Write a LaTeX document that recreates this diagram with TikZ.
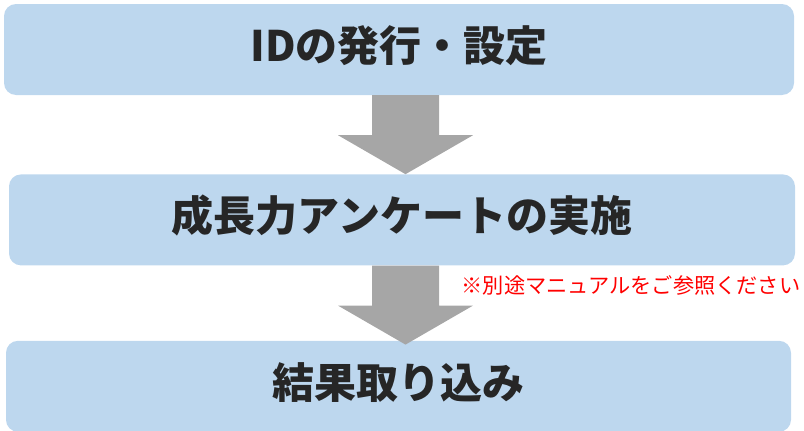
\documentclass[tikz,border=0pt]{standalone}
\usepackage{fontspec}
\newfontfamily\jpfont{Noto Sans CJK JP}
\usepackage{xcolor}
\usetikzlibrary{calc}
\usetikzlibrary{positioning}
\definecolor{boxblue}{HTML}{BDD7EE}
\definecolor{arrowgray}{HTML}{A6A6A6}
\definecolor{textgray}{HTML}{262626}
\definecolor{notered}{HTML}{FF0000}

\begin{document}
\begin{tikzpicture}[x=1pt,y=1pt,node distance=79pt]
	\tikzstyle{stepbox}=[fill=boxblue, rounded corners=12pt, minimum height=91pt, inner sep=0pt, text height=36pt, text depth=12pt, text=textgray, font=\jpfont\bfseries\fontsize{42}{50}\selectfont]
	\tikzstyle{downarrow}=[fill=arrowgray]
	\tikzstyle{note}=[text=notered, inner sep=0pt, font=\jpfont\fontsize{21.2}{25}\selectfont]
	\useasboundingbox (0,0) rectangle (804,-431);
	\node[stepbox, minimum width=790pt] (id) at (399,-49.5) {IDの発行・設定};
	\node[stepbox, minimum width=786pt] (survey) [below=79pt of id, xshift=3pt] {成長力アンケートの実施};
	\node[stepbox, minimum width=785pt] (result) [below=75pt of survey, xshift=-3.5pt] {結果取り込み};
	\node[note, anchor=west] (manual) at (461.5,-285) {※別途マニュアルをご参照ください};
	\coordinate (mid) at (405.5,0);
		\foreach \src/\dst/\lap in {id/survey/0,survey/result/4}{
			\fill[downarrow] ($(mid |- \src.south)+(-33.5,0)$) -- ($(mid |- \dst.north)+(-33.5,39-\lap)$)
				-- ($(mid |- \dst.north)+(-67.5,39-\lap)$) -- ($(mid |- \dst.north)+(0,-\lap)$)
				-- ($(mid |- \dst.north)+(67.5,39-\lap)$) -- ($(mid |- \dst.north)+(33.5,39-\lap)$)
				-- ($(mid |- \src.south)+(33.5,0)$) -- cycle;
			}
\end{tikzpicture}
\end{document}
